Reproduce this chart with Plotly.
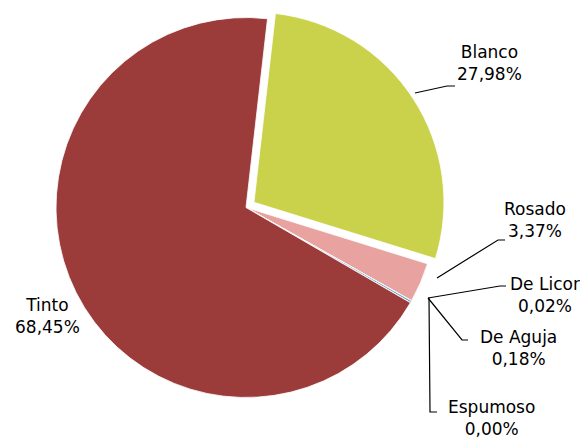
import plotly.graph_objects as go

# ---- data ----
categories = ["Blanco", "Rosado", "De Licor", "De Aguja", "Espumoso", "Tinto"]
values = [27.98, 3.37, 0.02, 0.18, 0.00, 68.45]
colors = ["#C9D24A", "#E8A3A1", "#4BA8C0", "#6FA6C8", "#8FB0C8", "#9C3C3A"]
pulls = [0.05, 0, 0, 0, 0, 0]

# ---- layout (page pixel positions; the page body adds an 8px offset) ----
OFF = 8
W, H = 588 - OFF, 438 - OFF
label_pos = {
    "Blanco": (489, 63),
    "Rosado": (535, 220),
    "De Licor": (545, 295),
    "De Aguja": (518, 348),
    "Espumoso": (491, 418),
    "Tinto": (47, 316),
}
leaders = {
    "Blanco": [(415, 93), (447, 86), (455, 86)],
    "Rosado": [(437, 278), (498, 240), (505, 240)],
    "De Licor": [(428, 298), (500, 286), (506, 286)],
    "De Aguja": [(428, 298), (462, 340), (468, 340)],
    "Espumoso": [(429, 298), (430, 412), (437, 412)],
}
pie_cx, pie_cy, pie_half = 246 - OFF, 207.5 - OFF, 199.5


def px(x):
    return (x - OFF) / W


def py(y):
    return 1 - (y - OFF) / H


def fmt(v):
    return f"{v:.2f}%".replace(".", ",")


fig = go.Figure(
    go.Pie(
        labels=categories,
        values=values,
        sort=False,
        direction="clockwise",
        rotation=6.5,
        pull=pulls,
        marker=dict(colors=colors, line=dict(color="white", width=0.8)),
        textinfo="none",
        hoverinfo="label+percent",
        domain=dict(
            x=[(pie_cx - pie_half) / W, (pie_cx + pie_half) / W],
            y=[max(0, 1 - (pie_cy + pie_half) / H), min(1, 1 - (pie_cy - pie_half) / H)],
        ),
        showlegend=False,
    )
)

shapes = []
for name, pts in leaders.items():
    path = "M " + " L ".join(f"{px(x)},{py(y)}" for x, y in pts)
    shapes.append(dict(type="path", xref="paper", yref="paper", path=path,
                       line=dict(color="black", width=1.2)))

annotations = []
for name, v in zip(categories, values):
    x, y = label_pos[name]
    annotations.append(dict(
        x=px(x), y=py(y), xref="paper", yref="paper",
        text=f"{name}<br>{fmt(v)}", showarrow=False,
        xanchor="center", yanchor="middle", align="center",
        font=dict(family="DejaVu Sans", size=17, color="black"),
    ))

fig.update_layout(
    width=W, height=H,
    margin=dict(l=0, r=0, t=0, b=0),
    paper_bgcolor="white",
    plot_bgcolor="white",
    shapes=shapes,
    annotations=annotations,
)

fig.write_html("out.html")
